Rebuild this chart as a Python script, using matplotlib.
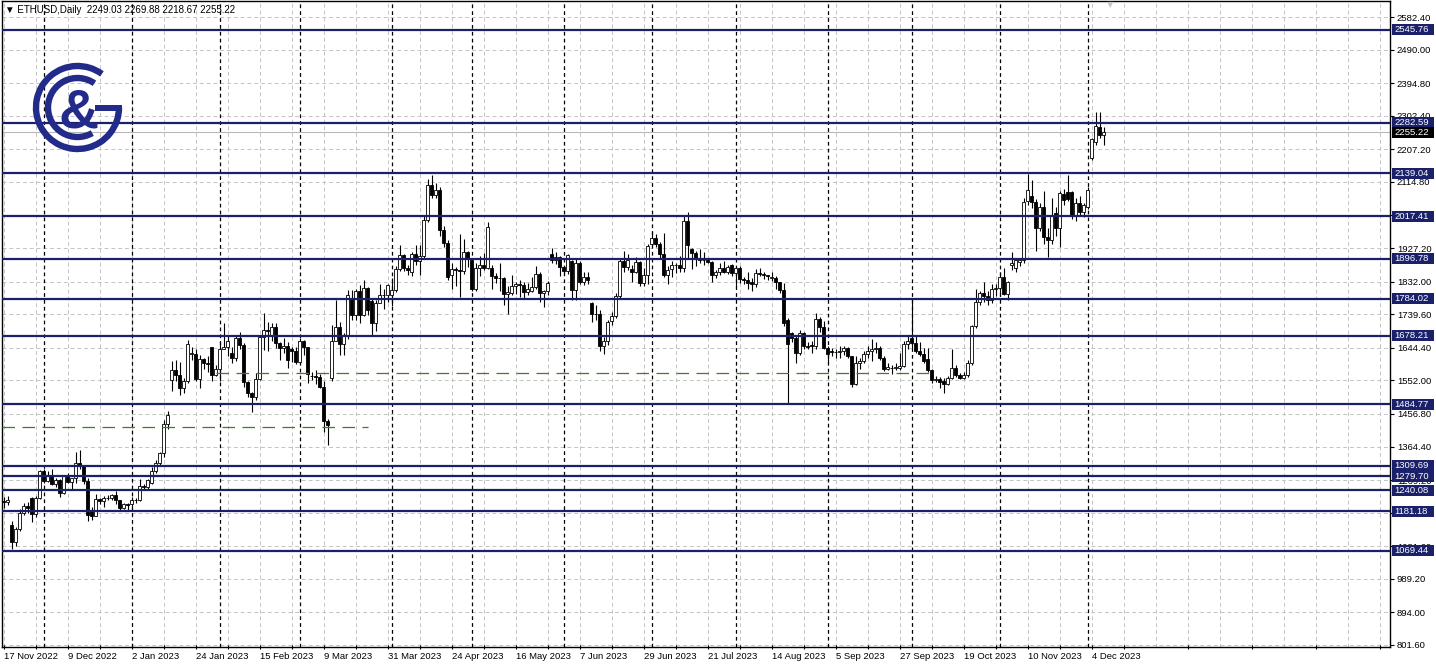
import numpy as np
import pandas as pd
import matplotlib
matplotlib.use("Agg")
import matplotlib.pyplot as plt
import matplotlib.transforms as mtransforms
from matplotlib.patches import Arc, Rectangle

# ETHUSD daily bars (weekdays only), 17 Nov 2022 .. 7 Dec 2023
opens = [
    1210, 1206, 1142, 1093, 1131, 1175, 1197, 1219, 1174, 1219,
    1295, 1268, 1280, 1258, 1270, 1232, 1281, 1263, 1274, 1319, 1309, 1266, 1185, 1167, 1216, 1211, 1218, 1219, 1226, 1212, 1189, 1202,
    1200, 1214, 1212, 1253, 1250, 1262, 1296, 1318, 1346, 1427, 1552, 1580, 1567, 1529, 1550, 1628, 1628, 1557, 1613, 1601, 1647, 1566,
    1585, 1642, 1646, 1631, 1615, 1673, 1651, 1546, 1515, 1506, 1556, 1674, 1695, 1681, 1703, 1659, 1643, 1649, 1641, 1634,
    1605, 1663, 1647, 1564, 1565, 1561, 1534, 1437, 1560, 1665, 1702, 1654, 1677, 1786, 1737, 1806, 1737, 1815, 1777, 1715, 1772, 1793, 1793,
    1794, 1808, 1869, 1908, 1871, 1860, 1910, 1891, 1906, 2006, 2105, 2077, 2091, 1978, 1941, 1850, 1868, 1866, 1862, 1915,
    1892, 1810, 1870, 1878, 1872, 1870, 1848, 1843, 1841, 1797, 1800, 1820, 1825, 1822, 1803, 1806, 1818, 1854, 1800, 1805, 1910, 1893, 1901,
    1873, 1862, 1891, 1809, 1885, 1832, 1846, 1770, 1740, 1739, 1650, 1665, 1720, 1735, 1790, 1890, 1874, 1869, 1858, 1889, 1828, 1851,
    1938, 1955, 1938, 1910, 1851, 1867, 1880, 1878, 1871, 2003, 1925, 1914, 1897, 1892, 1892, 1888, 1850, 1859, 1870, 1860, 1880,
    1856, 1870, 1840, 1836, 1830, 1826, 1856, 1855, 1850, 1843, 1843, 1830, 1807, 1722, 1685, 1671, 1631, 1685, 1650, 1652, 1650, 1727, 1702,
    1645, 1636, 1632, 1633, 1635, 1645, 1620, 1543, 1600, 1606, 1628, 1636, 1642, 1645, 1616, 1585, 1588, 1586, 1586, 1594, 1656,
    1673, 1659, 1636, 1628, 1612, 1580, 1552, 1557, 1550, 1543, 1560, 1588, 1566, 1560, 1566, 1600, 1705, 1773, 1799, 1790, 1780, 1810,
    1815, 1845, 1798, 1878, 1870, 1889, 1892, 2062, 2075, 2057, 1983, 2045, 1958, 1949, 2026, 1983, 2080, 2085, 2085, 2020, 2054, 2029,
    2043, 2182, 2227, 2270, 2249.03,
]
highs = [
    1222, 1225, 1153, 1137, 1186, 1205, 1207, 1222, 1225, 1297,
    1301, 1296, 1302, 1275, 1271, 1285, 1288, 1276, 1348, 1354, 1312, 1275, 1192, 1230, 1219, 1223, 1226, 1229, 1239, 1214, 1205, 1203,
    1220, 1219, 1272, 1259, 1272, 1305, 1325, 1350, 1440, 1466, 1608, 1609, 1603, 1560, 1666, 1647, 1640, 1625, 1615, 1620, 1648, 1595,
    1663, 1715, 1679, 1646, 1680, 1689, 1657, 1549, 1519, 1573, 1677, 1742, 1717, 1714, 1716, 1661, 1672, 1661, 1647, 1646,
    1673, 1667, 1647, 1575, 1582, 1570, 1551, 1443, 1710, 1780, 1718, 1686, 1808, 1807, 1812, 1823, 1836, 1817, 1785, 1780, 1826, 1810, 1826,
    1842, 1877, 1937, 1911, 1880, 1915, 1937, 1935, 2022, 2124, 2134, 2112, 2099, 1990, 1949, 1885, 1873, 1966, 1952, 1920,
    1895, 1884, 1905, 1912, 2000, 1880, 1856, 1884, 1845, 1819, 1851, 1830, 1836, 1830, 1828, 1844, 1875, 1858, 1809, 1833, 1927, 1916, 1905,
    1876, 1910, 1893, 1895, 1890, 1858, 1860, 1775, 1765, 1752, 1675, 1723, 1745, 1800, 1900, 1920, 1910, 1880, 1903, 1890, 1870, 1940,
    1975, 1966, 1945, 1970, 1877, 1890, 1885, 1906, 2020, 2029, 1927, 1919, 1925, 1915, 1898, 1890, 1865, 1885, 1890, 1880, 1882,
    1872, 1875, 1844, 1858, 1841, 1868, 1870, 1860, 1852, 1860, 1848, 1832, 1827, 1728, 1690, 1680, 1695, 1690, 1660, 1665, 1744, 1732, 1720,
    1650, 1645, 1640, 1650, 1650, 1648, 1622, 1622, 1615, 1635, 1650, 1670, 1660, 1650, 1620, 1600, 1595, 1600, 1630, 1665, 1680,
    1784, 1680, 1660, 1645, 1645, 1585, 1565, 1562, 1560, 1563, 1642, 1595, 1572, 1575, 1610, 1710, 1810, 1805, 1830, 1805, 1825, 1825,
    1860, 1870, 1835, 1915, 1900, 1900, 2070, 2136, 2120, 2065, 2055, 2090, 1985, 2070, 2045, 2090, 2094, 2134, 2090, 2070, 2075, 2055,
    2100, 2240, 2313, 2313, 2269.88,
]
lows = [
    1190, 1198, 1073, 1082, 1125, 1170, 1177, 1151, 1164, 1215,
    1262, 1263, 1254, 1249, 1221, 1229, 1262, 1241, 1260, 1302, 1257, 1153, 1157, 1166, 1200, 1193, 1213, 1212, 1202, 1183, 1188, 1185,
    1197, 1205, 1210, 1245, 1241, 1258, 1290, 1310, 1335, 1415, 1523, 1550, 1510, 1515, 1545, 1611, 1550, 1530, 1585, 1576, 1550, 1563,
    1550, 1640, 1620, 1602, 1608, 1640, 1532, 1505, 1461, 1496, 1553, 1638, 1636, 1663, 1643, 1609, 1631, 1586, 1605, 1599,
    1601, 1623, 1544, 1552, 1542, 1529, 1406, 1368, 1550, 1664, 1624, 1625, 1670, 1724, 1722, 1715, 1735, 1738, 1681, 1693, 1770, 1755, 1773,
    1762, 1803, 1861, 1862, 1850, 1847, 1880, 1851, 1900, 2000, 2070, 2070, 1960, 1930, 1836, 1810, 1820, 1787, 1855, 1873,
    1806, 1805, 1849, 1866, 1868, 1810, 1828, 1806, 1767, 1740, 1794, 1798, 1787, 1782, 1794, 1803, 1811, 1774, 1761, 1793, 1884, 1882, 1847,
    1853, 1855, 1781, 1780, 1825, 1822, 1825, 1718, 1723, 1636, 1626, 1653, 1710, 1730, 1785, 1860, 1865, 1832, 1856, 1820, 1820, 1825,
    1935, 1930, 1900, 1845, 1825, 1844, 1856, 1860, 1860, 1900, 1868, 1875, 1886, 1880, 1884, 1830, 1842, 1850, 1856, 1855, 1848,
    1817, 1827, 1824, 1812, 1805, 1818, 1848, 1840, 1838, 1833, 1810, 1800, 1705, 1489, 1660, 1600, 1625, 1640, 1640, 1630, 1640, 1690, 1640,
    1600, 1620, 1615, 1615, 1625, 1615, 1532, 1540, 1585, 1602, 1615, 1608, 1630, 1610, 1578, 1580, 1570, 1580, 1580, 1591, 1640,
    1645, 1630, 1622, 1600, 1575, 1545, 1548, 1531, 1517, 1538, 1555, 1562, 1555, 1555, 1562, 1595, 1700, 1765, 1775, 1765, 1770, 1790,
    1790, 1795, 1780, 1865, 1860, 1875, 1885, 2050, 2040, 1920, 1975, 1940, 1901, 1940, 1960, 1929, 2050, 2060, 2010, 2005, 2020, 2014,
    2038, 2178, 2220, 2240, 2218.67,
]
closes = [
    1206, 1212, 1093, 1131, 1175, 1197, 1190, 1174, 1219, 1295,
    1268, 1285, 1258, 1270, 1232, 1281, 1265, 1274, 1319, 1309, 1266, 1170, 1167, 1216, 1211, 1218, 1219, 1226, 1212, 1189, 1202, 1199,
    1214, 1212, 1253, 1250, 1269, 1296, 1318, 1346, 1427, 1455, 1580, 1567, 1529, 1550, 1655, 1628, 1557, 1613, 1601, 1598, 1566, 1585,
    1642, 1646, 1665, 1615, 1673, 1651, 1546, 1515, 1506, 1556, 1674, 1695, 1692, 1703, 1659, 1643, 1649, 1609, 1634, 1605,
    1663, 1647, 1569, 1565, 1561, 1534, 1437, 1425, 1665, 1702, 1654, 1677, 1793, 1737, 1806, 1737, 1815, 1752, 1715, 1772, 1793, 1793, 1822,
    1808, 1869, 1908, 1871, 1865, 1910, 1891, 1906, 2006, 2105, 2077, 2091, 1978, 1941, 1845, 1868, 1866, 1862, 1915, 1895,
    1810, 1870, 1878, 1872, 1986, 1848, 1843, 1841, 1797, 1804, 1820, 1825, 1822, 1803, 1812, 1818, 1854, 1800, 1805, 1828, 1893, 1901, 1873,
    1862, 1907, 1809, 1885, 1832, 1846, 1838, 1740, 1739, 1650, 1665, 1718, 1735, 1790, 1890, 1874, 1894, 1858, 1889, 1828, 1851, 1934,
    1955, 1938, 1910, 1851, 1866, 1880, 1878, 1871, 2003, 1935, 1914, 1897, 1892, 1892, 1889, 1850, 1859, 1870, 1860, 1874, 1856,
    1870, 1840, 1836, 1828, 1826, 1856, 1855, 1850, 1848, 1843, 1830, 1807, 1716, 1656, 1671, 1631, 1685, 1650, 1648, 1650, 1727, 1702, 1645,
    1628, 1632, 1633, 1635, 1645, 1620, 1543, 1600, 1606, 1628, 1636, 1642, 1645, 1616, 1585, 1590, 1586, 1590, 1594, 1656, 1665,
    1659, 1636, 1628, 1608, 1580, 1552, 1557, 1546, 1543, 1560, 1588, 1566, 1560, 1568, 1600, 1705, 1773, 1799, 1790, 1780, 1810, 1815,
    1845, 1798, 1832, 1884, 1892, 1892, 2057, 2091, 2057, 1983, 2045, 1958, 1949, 2020, 1983, 2082, 2063, 2065, 2020, 2054, 2029, 2048,
    2091, 2236, 2273, 2247, 2255.22,
]

levels = [2545.76, 2282.59, 2139.04, 2017.41, 1896.78, 1784.02, 1678.21,
          1484.77, 1309.69, 1279.70, 1240.08, 1181.18, 1069.44]
last_price = 2255.22
price_ticks = [801.6, 894.0, 989.2, 1081.6, 1176.8, 1269.2, 1364.4, 1456.8,
               1552.0, 1644.4, 1739.6, 1832.0, 1927.2, 2019.6, 2114.8, 2207.2,
               2302.4, 2394.8, 2490.0, 2582.4]
# dashed green lines: price, first bar, last bar
green_prices = [1421, 1574]
green_start = [-0.5, 53]
green_end = [91, 233]

header = "ETHUSD,Daily  2249.03 2269.88 2218.67 2255.22"

dates = pd.bdate_range("2022-11-17", "2023-12-07")
assert len(dates) == len(opens) == len(highs) == len(lows) == len(closes)

navy = "#1b206b"
logo_col = "#222a8a"
grid_col = "#c4c4c4"
lab_font = ["Liberation Sans", "DejaVu Sans"]

W, H = 1436, 667
fig = plt.figure(figsize=(W / 100, H / 100), dpi=100)
fig.patch.set_facecolor("white")
ax = fig.add_axes([1.5 / W, 20 / H, 1388.5 / W, 646 / H])
ax.set_xlim(-0.5, -0.5 + 1388.5 / 4)
ax.set_ylim(795.9, 2627.8)
px = (2627.8 - 795.9) / 646  # price per pixel

o = np.array(opens, float)
h = np.array(highs, float)
l = np.array(lows, float)
c = np.array(closes, float)
x = np.arange(len(c))

# grid
for p in price_ticks:
    ax.axhline(p, color=grid_col, lw=0.7, ls=(0, (4, 3)), zorder=0)
for gx in np.arange(0, 350, 8):
    ax.axvline(gx, color=grid_col, lw=0.7, ls=(0, (4, 3)), zorder=0)

# month separators
month_starts = [i for i in range(1, len(dates)) if dates[i].month != dates[i - 1].month]
for i in month_starts:
    ax.axvline(i, color="black", lw=0.9, ls=(0, (3, 2.5)), zorder=1)

# current price line
ax.axhline(last_price, color="#b8b8b8", lw=0.8, zorder=1.5)

# candles
ax.vlines(x, l, h, color="black", lw=0.8, zorder=3)
up = c >= o
body = np.maximum(np.abs(c - o), 1.0)
ax.bar(x, body, bottom=np.minimum(o, c), width=0.55,
       color=np.where(up, "white", "black"), edgecolor="black",
       linewidth=0.6, zorder=4)

# horizontal levels
for lv in levels:
    ax.axhline(lv, color=navy, lw=1.6, zorder=5)

# green dashed lines
for gp, gs, ge in zip(green_prices, green_start, green_end):
    ax.plot([gs, ge], [gp, gp], color="#3f7f22", lw=0.9, ls=(0, (10, 6)), zorder=5)

# axes styling
for s in ax.spines.values():
    s.set_color("black")
    s.set_linewidth(1.0)
ax.yaxis.tick_right()
ax.set_yticks(price_ticks)
ax.set_yticklabels([f"{p:.2f}" for p in price_ticks], family=lab_font, fontsize=6.8)
ax.tick_params(axis="y", length=3, width=0.8, pad=2, colors="black")

lab_idx = list(range(0, len(dates), 16))
ax.set_xticks(lab_idx)
ax.set_xticklabels([f"{dates[i].day} {dates[i].strftime('%b %Y')}" for i in lab_idx],
                   family=lab_font, fontsize=6.8, ha="left")
ax.set_xticks(np.arange(8, 350, 16), minor=True)
ax.tick_params(axis="x", which="both", length=3, width=0.8, pad=2,
               direction="inout", colors="black")

# price labels on the right scale
tr = mtransforms.blended_transform_factory(ax.transAxes, ax.transData)
bx0 = 1 + 1.5 / 1388.5
bw = 42 / 1388.5
bh = 11 * px
tx = 1 + 4 / 1388.5


def price_box(val, fc, z):
    ax.add_patch(Rectangle((bx0, val - bh / 2), bw, bh, transform=tr, fc=fc,
                           ec="none", clip_on=False, zorder=z))
    ax.text(tx, val, f"{val:.2f}", transform=tr, ha="left", va="center",
            family=lab_font, fontsize=6.8, color="white", clip_on=False, zorder=z + 0.5)


for lv in levels:
    price_box(lv, navy, 9)
price_box(last_price, "black", 11)

# header
fig.text(5 / W, 1 - 10 / H, "\u25bc " + header, family=lab_font, fontsize=7,
         va="center", ha="left", color="black")
fig.text(1110 / W, 1 - 5 / H, "\u25bc", family="DejaVu Sans", fontsize=6,
         color="#c8c8c8", ha="center", va="center")

# logo
lg = fig.add_axes([28 / W, (H - 157.5) / H, 100 / W, 100 / H])
lg.set_xlim(-49.5, 50.5)
lg.set_ylim(-50, 50)
lg.axis("off")
lg.patch.set_alpha(0)
lg.add_patch(Arc((0, 0), 83, 83, theta1=54, theta2=360, color=logo_col, lw=4.6))
lg.add_patch(Rectangle((17, -3.5), 27.5, 6.5, color=logo_col, lw=0))
lg.add_patch(Arc((0, 0), 59, 59, theta1=55, theta2=300, color=logo_col, lw=4.6))
lg.text(1.5, -20.5, "&", family=["Liberation Sans", "DejaVu Sans"], fontweight="bold",
        fontsize=40, color=logo_col, ha="center", va="baseline")

fig.savefig("out.png", dpi=100)
